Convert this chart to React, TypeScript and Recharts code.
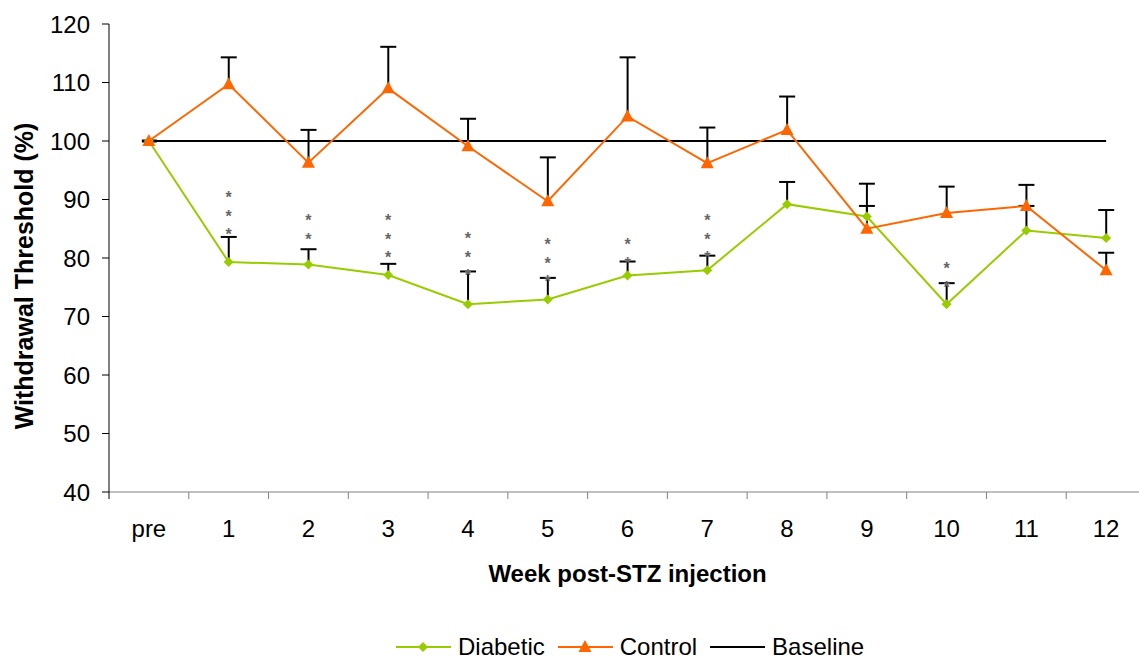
import { ComposedChart, Line, Bar, XAxis, YAxis, Legend } from 'recharts'

const WEEKS = ['pre', '1', '2', '3', '4', '5', '6', '7', '8', '9', '10', '11', '12']
const DIABETIC = [100, 79.3, 78.9, 77.1, 72.1, 72.9, 77.0, 77.9, 89.2, 87.1, 72.1, 84.7, 83.4]
const CONTROL = [100, 109.7, 96.3, 109.0, 99.1, 89.7, 104.2, 96.2, 101.9, 85.0, 87.7, 88.9, 77.9]
const BASELINE = [100, 100, 100, 100, 100, 100, 100, 100, 100, 100, 100, 100, 100]
// upper error bars only
const DIABETIC_ERR = [null, 4.3, 2.6, 1.9, 5.6, 3.7, 2.4, 2.5, 3.8, 5.6, 3.6, 4.2, 4.8]
const CONTROL_ERR = [null, 4.6, 5.6, 7.1, 4.7, 7.5, 10.1, 6.1, 5.7, 3.9, 4.5, 3.6, 3.0]
// significance stars (count) and the level of the lowest star
const SIG_STARS = [0, 3, 2, 3, 3, 3, 2, 3, 0, 0, 2, 0, 0]
const STAR_LEVEL = [null, 84.4, 83.6, 80.5, 77.4, 76.4, 79.5, 80.5, null, null, 75.4, null, null]
const Y_TICKS = [40, 50, 60, 70, 80, 90, 100, 110, 120]

const FONT = '"Liberation Sans", Arial, sans-serif'
const GREEN = '#99CC00'
const ORANGE = '#FF6600'
const PLOT_LEFT = 109
const PLOT_RIGHT = 1146
const PLOT_BOTTOM = 492
const BAND = (PLOT_RIGHT - PLOT_LEFT) / WEEKS.length

const data = WEEKS.map((week, i) => ({
  week,
  diabetic: DIABETIC[i],
  control: CONTROL[i],
  baseline: BASELINE[i],
  dErr: DIABETIC_ERR[i],
  cErr: CONTROL_ERR[i],
  stars: SIG_STARS[i],
  starLevel: STAR_LEVEL[i],
}))

function ErrShape(props: any) {
  const { x, y, width, height } = props
  if (x == null || y == null || !height) return <g />
  const cx = x + width / 2
  const top = Math.min(y, y + height)
  const bottom = Math.max(y, y + height)
  return (
    <g stroke="#000" strokeWidth={2}>
      <line x1={cx} y1={top} x2={cx} y2={bottom} />
      <line x1={cx - 8} y1={top} x2={cx + 8} y2={top} />
    </g>
  )
}

function Diamond({ cx, cy, size = 5, fill }: any) {
  return <polygon points={`${cx},${cy - size} ${cx + size},${cy} ${cx},${cy + size} ${cx - size},${cy}`} fill={fill} />
}

function Triangle({ cx, cy, fill }: any) {
  return <polygon points={`${cx},${cy - 7} ${cx + 6.5},${cy + 5} ${cx - 6.5},${cy + 5}`} fill={fill} />
}

function StarDot(props: any) {
  const { cx, cy, payload, index } = props
  if (cy == null || !payload.stars) return <g key={`s${index}`} />
  const rows = []
  for (let k = 0; k < payload.stars; k++) {
    rows.push(
      <text key={k} x={cx} y={cy - k * 18.5 + 8} textAnchor="middle" fontSize={16} fontWeight="bold" fill="#666" fontFamily={FONT}>
        *
      </text>
    )
  }
  return <g key={`s${index}`}>{rows}</g>
}

function BaselineDot(props: any) {
  const { cx, cy, index } = props
  if (index !== 0) return <g key={`b${index}`} />
  return <rect key={`b${index}`} x={cx - 7} y={cy - 1.5} width={15} height={3} fill="#000" />
}

function WeekTick(props: any) {
  const { x, payload, index } = props
  return (
    <g>
      {index === 0 && <line x1={x - BAND / 2} y1={PLOT_BOTTOM} x2={x - BAND / 2} y2={PLOT_BOTTOM + 7} stroke="#000" />}
      <line x1={x + BAND / 2} y1={PLOT_BOTTOM} x2={x + BAND / 2} y2={PLOT_BOTTOM + 7} stroke="#808080" />
      <text x={x} y={PLOT_BOTTOM + 45} textAnchor="middle" fontSize={24} fill="#000" fontFamily={FONT}>
        {payload.value}
      </text>
    </g>
  )
}

function XTitle({ viewBox }: any) {
  return (
    <text x={viewBox.x + viewBox.width / 2} y={viewBox.y + 90} textAnchor="middle" fontSize={24} fontWeight="bold" fontFamily={FONT}>
      Week post-STZ injection
    </text>
  )
}

function YTitle({ viewBox }: any) {
  const cy = viewBox.y + viewBox.height / 2 + 18
  return (
    <text x={33} y={cy} transform={`rotate(-90, 33, ${cy})`} textAnchor="middle" fontSize={25} fontWeight="bold" fontFamily={FONT}>
      Withdrawal Threshold (%)
    </text>
  )
}

function LegendIcon({ color, marker }: { color: string; marker?: 'diamond' | 'triangle' }) {
  return (
    <svg width={55} height={20} style={{ display: 'block' }}>
      <line x1={0} y1={10} x2={55} y2={10} stroke={color} strokeWidth={2} />
      {marker === 'diamond' && <Diamond cx={27} cy={10} size={5} fill={color} />}
      {marker === 'triangle' && <Triangle cx={27} cy={10} fill={color} />}
    </svg>
  )
}

function ChartLegend() {
  const items = [
    { label: 'Diabetic', color: GREEN, marker: 'diamond' as const },
    { label: 'Control', color: ORANGE, marker: 'triangle' as const },
    { label: 'Baseline', color: '#000' },
  ]
  return (
    <div style={{ display: 'flex', alignItems: 'center', height: 28, fontFamily: FONT, fontSize: 24, color: '#000', whiteSpace: 'nowrap' }}>
      {items.map((it) => (
        <div key={it.label} style={{ display: 'flex', alignItems: 'center', marginRight: 13 }}>
          <LegendIcon color={it.color} marker={it.marker} />
          <span style={{ marginLeft: 7, lineHeight: '28px' }}>{it.label}</span>
        </div>
      ))}
    </div>
  )
}

export default function App() {
  return (
    <div style={{ position: 'absolute', left: 0, top: 0, width: 1139, height: 659, overflow: 'hidden', background: '#fff' }}>
      <ComposedChart width={1150} height={659} data={data} margin={{ top: 24, right: 4, bottom: 0, left: 0 }}>
        <XAxis
          dataKey="week"
          scale="band"
          interval={0}
          height={167}
          stroke="#808080"
          tickLine={false}
          tick={<WeekTick />}
          label={<XTitle />}
        />
        <XAxis xAxisId="e2" dataKey="week" scale="band" hide />
        <YAxis
          domain={[40, 120]}
          ticks={Y_TICKS}
          width={109}
          stroke="#000"
          tickSize={7}
          tickMargin={12}
          tick={{ fill: '#000', fontSize: 24, fontFamily: FONT }}
          label={<YTitle />}
        />
        <Bar
          dataKey={(d: any) => (d.dErr == null ? null : [d.diabetic, d.diabetic + d.dErr])}
          shape={<ErrShape />}
          isAnimationActive={false}
          legendType="none"
        />
        <Bar
          xAxisId="e2"
          dataKey={(d: any) => (d.cErr == null ? null : [d.control, d.control + d.cErr])}
          shape={<ErrShape />}
          isAnimationActive={false}
          legendType="none"
        />
        <Line dataKey="baseline" stroke="#000" strokeWidth={2} dot={<BaselineDot />} activeDot={false} isAnimationActive={false} />
        <Line
          dataKey="diabetic"
          stroke={GREEN}
          strokeWidth={2}
          dot={(p: any) => <Diamond key={`d${p.index}`} cx={p.cx} cy={p.cy} size={5} fill={GREEN} />}
          activeDot={false}
          isAnimationActive={false}
        />
        <Line
          dataKey="control"
          stroke={ORANGE}
          strokeWidth={2}
          dot={(p: any) => <Triangle key={`c${p.index}`} cx={p.cx} cy={p.cy} fill={ORANGE} />}
          activeDot={false}
          isAnimationActive={false}
        />
        <Line xAxisId="e2" dataKey="starLevel" stroke="none" dot={<StarDot />} activeDot={false} isAnimationActive={false} legendType="none" />
        <Legend
          verticalAlign="middle"
          content={<ChartLegend />}
          wrapperStyle={{ position: 'absolute', top: 633, left: 396, width: 520, height: 28 }}
        />
      </ComposedChart>
    </div>
  )
}
